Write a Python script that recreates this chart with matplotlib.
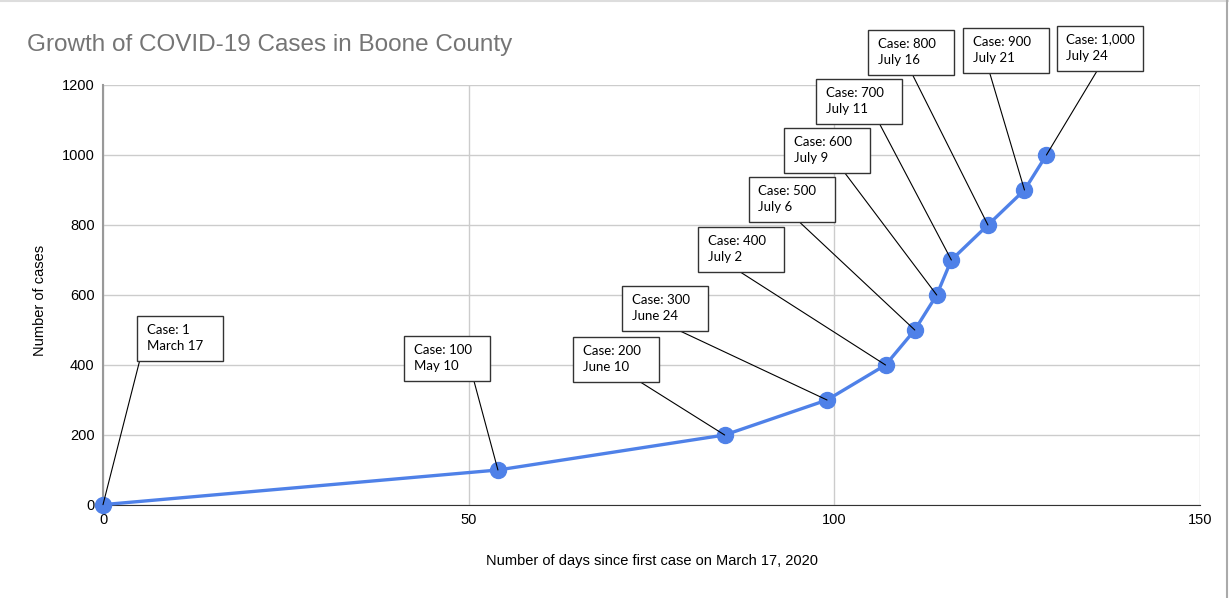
import matplotlib
matplotlib.use('Agg')
import matplotlib.pyplot as plt
from matplotlib.lines import Line2D
from matplotlib.text import Text
from matplotlib.offsetbox import DrawingArea, AnnotationBbox

# Datos: días desde el primer caso y número de casos
dias = [0, 54, 85, 99, 107, 111, 114, 116, 121, 126, 129]
casos = [1, 100, 200, 300, 400, 500, 600, 700, 800, 900, 1000]
etiquetas = ['Case: 1\nMarch 17', 'Case: 100\nMay 10', 'Case: 200\nJune 10',
             'Case: 300\nJune 24', 'Case: 400\nJuly 2', 'Case: 500\nJuly 6',
             'Case: 600\nJuly 9', 'Case: 700\nJuly 11', 'Case: 800\nJuly 16',
             'Case: 900\nJuly 21', 'Case: 1,000\nJuly 24']

# Esquina superior izquierda de cada cuadro (en datos) y punto de enganche de la línea
pos_cuadros = [(4.65, 540), (41.2, 483), (64.3, 480), (71.0, 626), (81.4, 794),
               (88.3, 937), (93.1, 1077), (97.5, 1217), (104.6, 1357),
               (117.6, 1363), (130.4, 1369)]
enganche = [0.03, 0.81, 0.78, 0.67, 0.49, 0.59, 0.71, 0.74, 0.52, 0.31, 0.47]

fig = plt.figure(figsize=(12.29, 5.98), dpi=100)
ax = fig.add_axes([103 / 1229, 1 - 505 / 598, 1097 / 1229, 420 / 598])

ax.plot(dias, casos, color='#4f81e8', lw=2.4, marker='o', markersize=11.5,
        zorder=3, clip_on=False)

# Cuadros de texto de tamaño fijo (en puntos)
ancho, alto = 61.9, 32.4
for txt, (bx, by), rx, d, c in zip(etiquetas, pos_cuadros, enganche, dias, casos):
    da = DrawingArea(ancho, alto, 0, 0)
    da.add_artist(Text(7.0, alto - 5.5, txt, ha='left', va='top', fontsize=9.5,
                       family='Lato', linespacing=1.45))
    ab = AnnotationBbox(da, (d, c), xybox=(bx, by), xycoords='data',
                        boxcoords='data', box_alignment=(0, 1), pad=0,
                        annotation_clip=False, zorder=4,
                        bboxprops=dict(boxstyle='square,pad=0', fc='white',
                                       ec='#333333', lw=1),
                        arrowprops=dict(arrowstyle='-', color='black', lw=0.8,
                                        relpos=(rx, 0), shrinkA=0, shrinkB=0))
    ax.add_artist(ab)

ax.set_xlim(0, 150)
ax.set_ylim(0, 1200)
ax.set_xticks([0, 50, 100, 150])
ax.set_yticks(range(0, 1201, 200))
ax.grid(True, color='#cccccc', lw=1)
ax.set_axisbelow(True)
for lado in ['top', 'right']:
    ax.spines[lado].set_visible(False)
ax.spines['left'].set_color('#999999')
ax.spines['left'].set_linewidth(1.5)
ax.spines['bottom'].set_color('#333333')
ax.tick_params(length=0, labelsize=10.5, pad=6)
for lbl in ax.get_xticklabels() + ax.get_yticklabels():
    lbl.set_family('Liberation Sans')

ax.set_xlabel('Number of days since first case on March 17, 2020',
              fontsize=10.5, family='Liberation Sans')
ax.xaxis.set_label_coords(0.5, -(561 - 505) / 420)
ax.xaxis.label.set_va('center')
ax.set_ylabel('Number of cases', fontsize=10.5, family='Liberation Sans')
ax.yaxis.set_label_coords(-(103 - 40) / 1097, (505 - 300) / 420)
ax.yaxis.label.set_va('center')

fig.text(27 / 1229, 1 - 45 / 598, 'Growth of COVID-19 Cases in Boone County',
         fontsize=17.5, color='#757575', family='Liberation Sans', va='center')

# Borde de la imagen
fig.add_artist(Line2D([0, 1], [0.999, 0.999], color='#dddddd', lw=1.5, transform=fig.transFigure))
fig.add_artist(Line2D([1226.5 / 1229] * 2, [0, 1], color='#aaaaaa', lw=1.5, transform=fig.transFigure))

fig.savefig('out.png', dpi=100)
